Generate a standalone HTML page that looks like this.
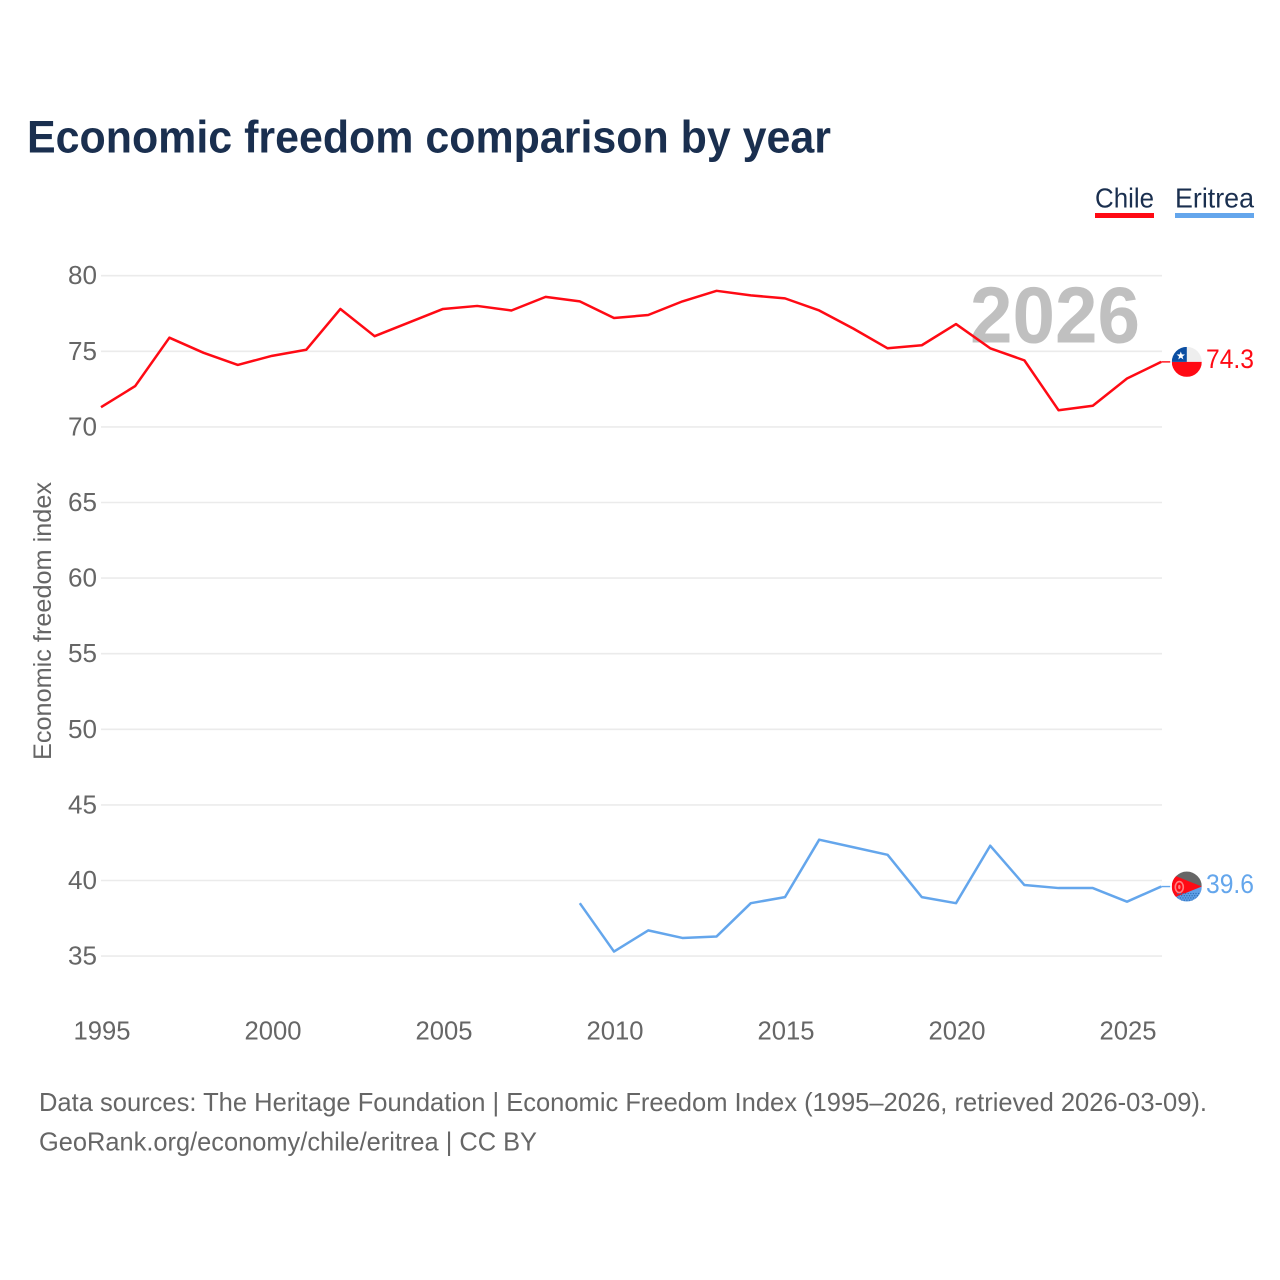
<!DOCTYPE html>
<html>
<head>
<meta charset="utf-8">
<title>Economic freedom comparison by year</title>
<style>
html,body{margin:0;padding:0;background:#fff;}
svg{display:block;font-family:"Liberation Sans",sans-serif;}
</style>
</head>
<body>
<svg id="chart" xmlns="http://www.w3.org/2000/svg" width="1280" height="1280" viewBox="0 0 1280 1280">
  <rect width="1280" height="1280" fill="#fff"/>
  <text x="27" y="152.5" font-size="45" font-weight="700" fill="#1a2f4f" textLength="804" lengthAdjust="spacingAndGlyphs">Economic freedom comparison by year</text>
  <g>
    <g>
      <text x="1095" y="207.5" font-size="27.5" fill="#1a2f4f" textLength="59" lengthAdjust="spacingAndGlyphs">Chile</text>
      <rect x="1095" y="213" width="59" height="5" fill="#ff0a14"/>
    </g>
    <g>
      <text x="1175" y="207.5" font-size="27.5" fill="#1a2f4f" textLength="79" lengthAdjust="spacingAndGlyphs">Eritrea</text>
      <rect x="1175" y="213" width="79" height="5" fill="#64a6ec"/>
    </g>
  </g>
  <g id="grid"></g>
  <g id="yticks"></g>
  <g id="xticks"></g>
  <text transform="translate(51,621) rotate(-90)" text-anchor="middle" font-size="25" fill="#666" textLength="278" lengthAdjust="spacingAndGlyphs">Economic freedom index</text>
  <text id="year-label" x="970" y="342.5" font-size="80" font-weight="700" fill="#c0c0c0" textLength="170" lengthAdjust="spacingAndGlyphs">2026</text>
  <g id="series"></g>
  <g id="ends"></g>
  <text x="39" y="1111" font-size="26" fill="#666" textLength="1168" lengthAdjust="spacingAndGlyphs">Data sources: The Heritage Foundation | Economic Freedom Index (1995–2026, retrieved 2026-03-09).</text>
  <text x="39" y="1150.5" font-size="26" fill="#666" textLength="498" lengthAdjust="spacingAndGlyphs">GeoRank.org/economy/chile/eritrea | CC BY</text>
</svg>
<script>
const years = [1995,1996,1997,1998,1999,2000,2001,2002,2003,2004,2005,2006,2007,2008,2009,2010,2011,2012,2013,2014,2015,2016,2017,2018,2019,2020,2021,2022,2023,2024,2025,2026];
const chileValues = [71.3,72.7,75.9,74.9,74.1,74.7,75.1,77.8,76.0,76.9,77.8,78.0,77.7,78.6,78.3,77.2,77.4,78.3,79.0,78.7,78.5,77.7,76.5,75.2,75.4,76.8,75.2,74.4,71.1,71.4,73.2,74.3];
const eritreaValues = [null,null,null,null,null,null,null,null,null,null,null,null,null,null,38.5,35.3,36.7,36.2,36.3,38.5,38.9,42.7,42.2,41.7,38.9,38.5,42.3,39.7,39.5,39.5,38.6,39.6];
const yTickLabels = [35,40,45,50,55,60,65,70,75,80];
const xTickLabels = [1995,2000,2005,2010,2015,2020,2025];

const NS = 'http://www.w3.org/2000/svg';
const xScale = function (year) { return 101 + (year - 1995) * 34.2; };
const yScale = function (value) { return 275.7 + (80 - value) * 15.12; };
const make = function (tag, parent, attrs) {
  const el = document.createElementNS(NS, tag);
  Object.keys(attrs).forEach(function (k) { el.setAttribute(k, attrs[k]); });
  parent.appendChild(el);
  return el;
};

const grid = document.getElementById('grid');
const yticks = document.getElementById('yticks');
const xticks = document.getElementById('xticks');
const series = document.getElementById('series');
const ends = document.getElementById('ends');

yTickLabels.forEach(function (v) {
  const line = make('line', grid, {x1: 101, x2: 1162, y1: yScale(v), y2: yScale(v), stroke: '#ebebeb', 'stroke-width': 1.6});
  
  
  const label = make('text', yticks, {x: 97, y: yScale(v) + 8.5, 'text-anchor': 'end', 'font-size': 25.5, fill: '#666', textLength: 29, lengthAdjust: 'spacingAndGlyphs'});
  
  
  label.textContent = v;
});

xTickLabels.forEach(function (y) {
  const label = make('text', xticks, {x: xScale(y) + 1, y: 1039.5, 'text-anchor': 'middle', 'font-size': 26, fill: '#666', textLength: 57, lengthAdjust: 'spacingAndGlyphs'});
  
  
  label.textContent = y;
});

const pathFor = function (values) {
  let d = '';
  values.forEach(function (v, i) {
    if (v === null) return;
    d += (d ? 'L' : 'M') + xScale(years[i]).toFixed(2) + ' ' + yScale(v).toFixed(2);
  });
  return d;
};

const chileLine = make('path', series, {d: pathFor(chileValues), fill: 'none', stroke: '#ff0a14', 'stroke-width': 2.5, 'stroke-linejoin': 'round'});


const eritreaLine = make('path', series, {d: pathFor(eritreaValues), fill: 'none', stroke: '#64a6ec', 'stroke-width': 2.5, 'stroke-linejoin': 'round'});



const chileLast = chileValues[chileValues.length - 1];
const eritreaLast = eritreaValues[eritreaValues.length - 1];
const endX = xScale(years[years.length - 1]);
const flagX = endX + 25.6;
const cy = yScale(chileLast);
const ey = yScale(eritreaLast);

const defs = make('defs', ends, {});
const clipChile = make('clipPath', defs, {id: 'clip-chile'});
make('circle', clipChile, {cx: flagX, cy: cy, r: 15});
const clipEritrea = make('clipPath', defs, {id: 'clip-eritrea'});
make('circle', clipEritrea, {cx: flagX, cy: ey, r: 15});

/* Chile end marker */
const chileConnector = make('line', ends, {x1: endX, x2: endX + 9, y1: cy, y2: cy, stroke: '#ff0a14', 'stroke-width': 1.4});


const chileFlag = make('g', ends, {'clip-path': 'url(#clip-chile)'});


make('rect', chileFlag, {x: flagX - 15, y: cy - 15, width: 30, height: 15, fill: '#eeeeee'});
make('rect', chileFlag, {x: flagX - 15, y: cy, width: 30, height: 15, fill: '#ff0a14'});
make('rect', chileFlag, {x: flagX - 15, y: cy - 15, width: 15, height: 15, fill: '#0b4ea2'});
const s = [];
for (let i = 0; i < 10; i++) {
  const r = i % 2 ? 1.8 : 4.4;
  const a = -Math.PI / 2 + i * Math.PI / 5;
  s.push((flagX - 6 + r * Math.cos(a)).toFixed(2) + ',' + (cy - 6 + r * Math.sin(a)).toFixed(2));
}
make('polygon', chileFlag, {points: s.join(' '), fill: '#fff'});
const chileValueLabel = make('text', ends, {x: 1206, y: cy + 6, 'font-size': 27, fill: '#ff0a14', textLength: 48, lengthAdjust: 'spacingAndGlyphs'});


chileValueLabel.textContent = chileLast.toFixed(1);

/* Eritrea end marker */
const eritreaConnector = make('line', ends, {x1: endX, x2: endX + 9, y1: ey, y2: ey, stroke: '#64a6ec', 'stroke-width': 1.4});


const eritreaFlag = make('g', ends, {'clip-path': 'url(#clip-eritrea)'});


make('rect', eritreaFlag, {x: flagX - 15, y: ey - 15, width: 30, height: 15, fill: '#666666'});
make('rect', eritreaFlag, {x: flagX - 15, y: ey, width: 30, height: 15, fill: '#5f9fe6'});
make('polygon', eritreaFlag, {points: (flagX - 15) + ',' + (ey - 12) + ' ' + (flagX + 15) + ',' + ey + ' ' + (flagX - 15) + ',' + (ey + 12), fill: '#ff0a14'});
make('ellipse', eritreaFlag, {cx: flagX - 7.5, cy: ey + 0.5, rx: 4, ry: 5.5, fill: 'none', stroke: '#ff8080', 'stroke-width': 1.6});
make('ellipse', eritreaFlag, {cx: flagX - 7.5, cy: ey + 0.5, rx: 1.2, ry: 2.2, fill: '#ff8080'});
for (let row = 0; row < 4; row++) {
  for (let col = 0; col < 9; col++) {
    make('circle', eritreaFlag, {cx: flagX - 9 + col * 2.6 + (row % 2) * 1.3, cy: ey + 7 + row * 2.2, r: 0.7, fill: '#2f6fb8'});
  }
}
const eritreaValueLabel = make('text', ends, {x: 1206, y: ey + 6.5, 'font-size': 27, fill: '#64a6ec', textLength: 48, lengthAdjust: 'spacingAndGlyphs'});


eritreaValueLabel.textContent = eritreaLast.toFixed(1);
</script>
</body>
</html>
